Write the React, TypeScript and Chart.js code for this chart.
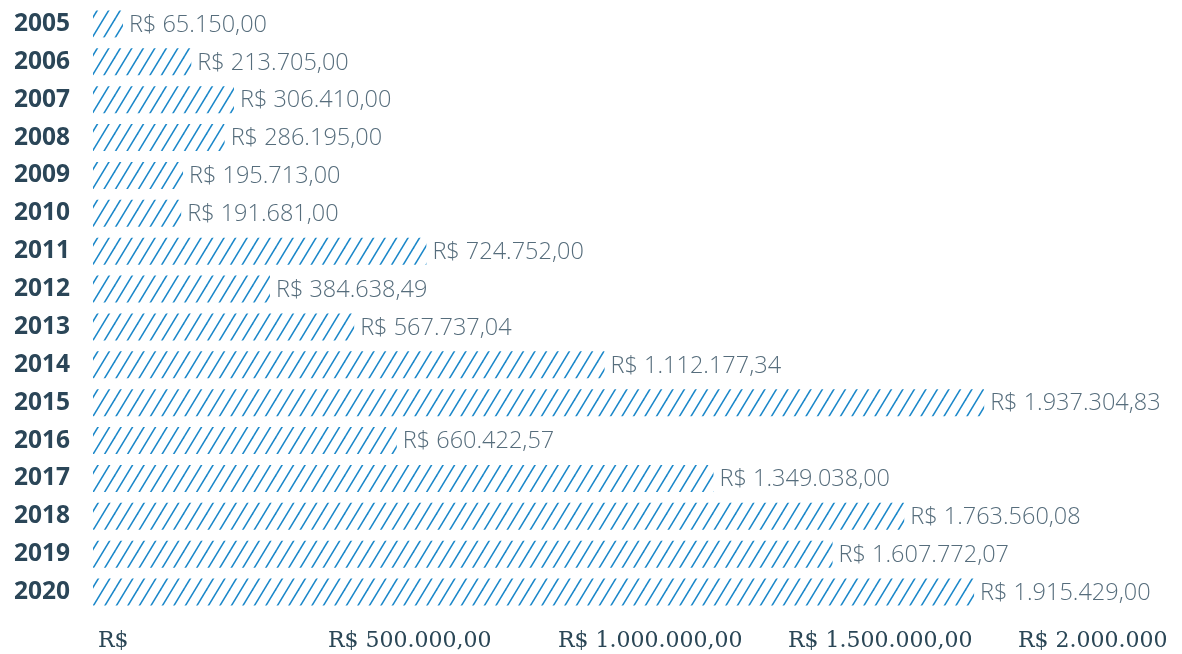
import React, { useEffect, useRef } from "react";
import { Chart, registerables } from "chart.js";

Chart.register(...registerables);

const years = ["2005","2006","2007","2008","2009","2010","2011","2012","2013","2014","2015","2016","2017","2018","2019","2020"];
const amounts = [65150.0, 213705.0, 306410.0, 286195.0, 195713.0, 191681.0, 724752.0, 384638.49, 567737.04, 1112177.34, 1937304.83, 660422.57, 1349038.0, 1763560.08, 1607772.07, 1915429.0];
const xTickValues = [0, 500000, 1000000, 1500000, 2000000];
const xTickLabels = ["R$", "R$ 500.000,00", "R$ 1.000.000,00", "R$ 1.500.000,00", "R$ 2.000.000"];

function formatBRL(v: number): string {
  const fixed = v.toFixed(2);
  const [intPart, dec] = fixed.split(".");
  const withDots = intPart.replace(/\B(?=(\d{3})+(?!\d))/g, ".");
  return "R$ " + withDots + "," + dec;
}

function makePattern(ctx: CanvasRenderingContext2D): CanvasPattern | string {
  const w = 11.5, h = 19;
  const c = document.createElement("canvas");
  c.width = 23;
  c.height = 38;
  const p = c.getContext("2d");
  if (!p) return "#1a87c9";
  p.strokeStyle = "#1a87c9";
  p.lineWidth = 1.5;
  for (let k = -2; k <= 3; k++) {
    p.beginPath();
    p.moveTo(k * w - 2 * w, 4 * h);
    p.lineTo(k * w + 2 * w, 0);
    p.stroke();
  }
  const pat = ctx.createPattern(c, "repeat");
  return pat || "#1a87c9";
}

const valueLabelPlugin = {
  id: "valueLabels",
  afterDatasetsDraw(chart: any) {
    const ctx = chart.ctx;
    const meta = chart.getDatasetMeta(0);
    ctx.save();
    ctx.font = "300 23.5px 'Open Sans'";
    ctx.fillStyle = "#566d7c";
    ctx.textAlign = "left";
    ctx.textBaseline = "middle";
    meta.data.forEach((bar: any, i: number) => {
      ctx.fillText(formatBRL(amounts[i]), bar.x + 6, bar.y + 1);
    });
    ctx.restore();
  },
};

export default function App() {
  const ref = useRef<HTMLCanvasElement | null>(null);
  useEffect(() => {
    document.body.style.margin = "0";
    const canvas = ref.current;
    if (!canvas) return;
    const ctx = canvas.getContext("2d");
    if (!ctx) return;
    const pattern = makePattern(ctx);
    const chart = new Chart(canvas, {
      type: "bar",
      data: {
        labels: years,
        datasets: [
          {
            data: amounts,
            backgroundColor: pattern as any,
            borderWidth: 0,
            barPercentage: 0.71,
            categoryPercentage: 1,
          },
        ],
      },
      options: {
        indexAxis: "y",
        animation: false,
        responsive: false,
        maintainAspectRatio: false,
        layout: { autoPadding: false, padding: { top: 5, right: 169, left: 0, bottom: 0 } },
        plugins: {
          legend: { display: false },
          tooltip: { enabled: false },
        },
        scales: {
          x: {
            type: "linear",
            min: 0,
            max: 2000000,
            grid: { display: false, drawTicks: false },
            border: { display: false },
            afterBuildTicks: (scale: any) => {
              scale.ticks = xTickValues.map((v) => ({ value: v }));
            },
            afterFit: (scale: any) => {
              scale.height = 43;
              scale.paddingLeft = 0;
              scale.paddingRight = 0;
            },
            ticks: {
              align: "start",
              labelOffset: 5,
              padding: 17,
              color: "#2a4656",
              font: { family: "'DejaVu Serif'", size: 22, weight: "normal" },
              callback: (value: any) => {
                const idx = xTickValues.indexOf(Number(value));
                return idx >= 0 ? xTickLabels[idx] : "";
              },
            },
          },
          y: {
            grid: { display: false, drawTicks: false },
            border: { display: false },
            afterFit: (scale: any) => {
              scale.width = 93;
              scale.paddingTop = 0;
              scale.paddingBottom = 0;
            },
            ticks: {
              padding: 23,
              color: "#2b4658",
              font: { family: "'Open Sans'", size: 24.5, weight: "bold" },
            },
          },
        },
      },
      plugins: [valueLabelPlugin],
    });
    return () => chart.destroy();
  }, []);
  return (
    <div style={{ width: 1182, height: 654, background: "#ffffff" }}>
      <canvas ref={ref} width={1182} height={654} style={{ display: "block", width: 1182, height: 654 }} />
    </div>
  );
}
